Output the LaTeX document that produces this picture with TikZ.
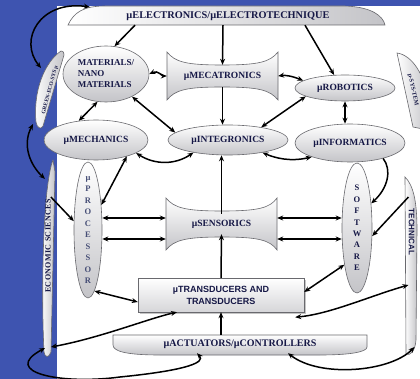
\documentclass[tikz,border=0pt]{standalone}
\usepackage{fontspec}
\setmainfont{Liberation Serif}
\setsansfont{Liberation Sans}
\usetikzlibrary{positioning, arrows.meta, shapes.geometric, shadows}
\definecolor{slideblue}{RGB}{62,84,176}
\definecolor{ink}{RGB}{22,24,70}
\definecolor{inkgray}{RGB}{70,78,118}
\definecolor{rim}{RGB}{105,105,110}
\definecolor{shade}{RGB}{196,196,200}
\tikzset{
  blob/.style={
    ellipse, draw=rim, line width=0.6pt,
    top color=white, bottom color=shade, text=ink,
    font=\bfseries\fontsize{9.5}{11}\selectfont, inner sep=0pt
  },
  plate/.style={draw=rim, line width=0.6pt, top color=white, bottom color=shade},
  tag/.style={text=ink, font=\bfseries\fontsize{9.5}{11}\selectfont, inner sep=0pt},
  arr/.style={-{Stealth[length=6pt,width=5pt]}, line width=1.5pt},
  arrs/.style={{Stealth[length=6pt,width=5pt]}-{Stealth[length=6pt,width=5pt]}, line width=1.5pt}
}

\begin{document}
\begin{tikzpicture}[x=1pt, y=-1pt]
  \useasboundingbox (0,0) rectangle (420,379);
  \clip (0,0) rectangle (420,379);
  % slide
  \fill[slideblue] (0,0) rectangle (420,379);
  \fill[white] (57,6) rectangle (420,379);

  % outlines that are not plain nodes
  \draw[plate, left color=white, right color=shade] (68,25) .. controls (74,12) and (84,6) .. (105,6) -- (345,6) .. controls (372,7) and (383,16) .. (385,25) -- cycle;
  \draw[plate] (167,52) .. controls (175,62) and (186,65) .. (222,65) .. controls (259,65) and (270,62) .. (278,52) -- (278,100) .. controls (270,90) and (259,87) .. (222,87) .. controls (186,87) and (175,90) .. (167,100) -- cycle;
  \draw[plate] (166,198) .. controls (174,208) and (186,211) .. (222,211) .. controls (258,211) and (270,208) .. (277,198) -- (277,250) .. controls (270,240) and (258,237) .. (222,237) .. controls (186,237) and (174,240) .. (166,250) -- cycle;
  \draw[plate] (113,335) -- (367,335) -- (367,347) .. controls (367,352) and (350,355) .. (320,355) -- (160,355) .. controls (125,355) and (113,351) .. (113,345) -- cycle;
  \draw[plate, left color=white, right color=shade] (53,160) .. controls (43,185) and (41,290) .. (44,352) .. controls (45,358) and (49,358) .. (51,352) -- (55,172) -- cycle;
  \draw[plate, left color=white, right color=shade] (405,177) .. controls (413,185) and (417,200) .. (417,230) -- (416,340) .. controls (415,352) and (410,356) .. (406,354) -- cycle;
  \draw[plate, left color=white, right color=shade] (61,51) .. controls (45,62) and (33,90) .. (36,122) .. controls (37,128) and (41,130) .. (43,126) -- (64,55) .. controls (64,52) and (62,50) .. (61,51) -- cycle;
  \draw[plate, left color=white, right color=shade] (397,53) .. controls (412,55) and (425,75) .. (428,100) -- (428,130) -- (413,127) -- cycle;

  % labels
  \node[tag, minimum width=300pt, minimum height=18pt, font=\bfseries\fontsize{10.3}{11}\selectfont] (elec) at (228,16) {µELECTRONICS/µELECTROTECHNIQUE};
  \node[blob, minimum width=86pt, minimum height=56pt, align=left, font=\bfseries\fontsize{9}{11}\selectfont] (mat) at (106,74) {MATERIALS/\\NANO\\MATERIALS};
  \node[tag, minimum width=111pt, minimum height=22pt] (meca) at (222.5,76) {µMECATRONICS};
  \node[blob, minimum width=100pt, minimum height=26pt] (rob) at (345,88) {µROBOTICS};
  \node[blob, minimum width=104pt, minimum height=40pt] (mech) at (96,140) {µMECHANICS};
  \node[blob, minimum width=120pt, minimum height=30pt] (integ) at (228,140) {µINTEGRONICS};
  \node[blob, minimum width=110pt, minimum height=38pt] (inf) at (350,143) {µINFORMATICS};
  \node[blob, minimum width=28pt, minimum height=136pt, inner sep=-10pt, align=center, text=inkgray, font=\bfseries\fontsize{8.5}{11.5}\selectfont] (proc) at (88,230) {µ\\P\\R\\O\\C\\E\\S\\S\\O\\R};
  \node[blob, minimum width=30pt, minimum height=130pt, align=center, font=\bfseries\fontsize{8.5}{11.4}\selectfont] (soft) at (357,228) {S\\O\\F\\T\\W\\A\\R\\E};
  \node[tag, minimum width=111pt, minimum height=20pt] (sens) at (221.5,224) {µSENSORICS};
  \node[draw=rim, top color=white, bottom color=shade!70, drop shadow={opacity=0.45, shadow xshift=2pt, shadow yshift=-2pt}, minimum width=166pt, minimum height=34pt, align=center, text=ink, font=\sffamily\bfseries\fontsize{9}{12}\selectfont] (trans) at (221,295) {µTRANSDUCERS AND\\TRANSDUCERS};
  \node[tag, minimum width=254pt, minimum height=18pt, font=\bfseries\fontsize{10}{11}\selectfont] (act) at (240,344) {µACTUATORS/µCONTROLLERS};
  \node[tag, font=\bfseries\fontsize{8}{9}\selectfont\addfontfeature{LetterSpace=5}] (econ) at (48,246) {\rotatebox{90}{ECONOMIC SCIENCES}};
  \node[tag, font=\sffamily\bfseries\fontsize{8}{9}\selectfont] (tech) at (411.5,232) {\rotatebox{-90}{TECHNICAL}};
  \node[tag, font=\bfseries\fontsize{5.5}{6}\selectfont] (green) at (50,90) {\rotatebox{75}{GREEN-ECO-SYS µ}};
  \node[tag, font=\bfseries\fontsize{6}{7}\selectfont] (sys) at (413,90) {\rotatebox{-78}{µ-SYS-TEM}};

  % links
  \draw[arr] ([xshift=-93pt]elec.south) -- (mat.73);
  \draw[arr] ([xshift=-5pt]elec.south) -- (meca.north);
  \draw[arr] ([xshift=77pt]elec.south) -- (rob.130);
  \draw[arr] (meca.south) -- (meca.south |- integ.north);
  \draw[arrs] (mat.east) .. controls (158,70) and (162,76) .. (meca.west);
  \draw[arrs] (meca.east) .. controls (285,75) and (292,76) .. (rob.170);
  \draw[arrs] (mat.253) -- (mech.132);
  \draw[arrs] (mat.319) -- (integ.172);
  \draw[arrs] (rob.192) -- (integ.21);
  \draw[arrs] (rob.south) -- (rob.south |- inf.north);
  \draw[arrs] (mech.-18) .. controls (155,165) and (175,165) .. (integ.200);
  \draw[arrs] (integ.-20) .. controls (275,158) and (290,162) .. (inf.200);
  \draw[arr] (inf.-25) .. controls (392,170) and (388,188) .. (soft.60);
  \draw[arrs] (mech.-28) -- (proc.62);
  \draw[arr] ([yshift=49pt]econ.east) -- (proc.148);
  \draw[arrs] ([yshift=6pt]sens.west) -- ([yshift=6pt]sens.west -| proc.east);
  \draw[arrs] ([yshift=-15pt]sens.west) -- ([yshift=-15pt]sens.west -| proc.east);
  \draw[arrs] ([yshift=6pt]sens.east) -- ([yshift=6pt]sens.east -| soft.west);
  \draw[arrs] ([yshift=-15pt]sens.east) -- ([yshift=-15pt]sens.east -| soft.west);
  \draw[arr] (sens.north) -- (sens.north |- integ.south);
  \draw[arr] (trans.north) -- (sens.south);
  \draw[arr] (trans.south |- act.north) -- (trans.south);
  \draw[arrs] (proc.-84) -- ([yshift=-7pt]trans.west);
  \draw[arrs] (soft.251) -- ([yshift=3pt]trans.east);
  \draw[arr] ([yshift=35pt]tech.west) -- (soft.-28);
  \draw[arrs] ([yshift=-53pt]tech.west) .. controls (370,296) and (330,314) .. ([xshift=-9pt,yshift=-5pt]trans.south east);
  \draw[arrs] ([yshift=-101pt]econ.east) .. controls (100,338) and (150,318) .. ([xshift=-44pt]trans.south);
  \draw[arrs] ([yshift=-102pt]econ.west) .. controls (0,372) and (60,385) .. (120,377) .. controls (190,370) and (205,362) .. ([xshift=-43pt]act.south);
  \draw[arrs] ([yshift=-115pt]tech.east) .. controls (390,372) and (320,378) .. ([xshift=48pt]act.south);
  \draw[arrs] ([shift={(12pt,9pt)}]elec.west) .. controls (40,0) and (18,40) .. ([yshift=22pt]green.west);
  \draw[arrs] ([shift={(-8pt,-34pt)}]green.west) .. controls (22,145) and (30,165) .. ([shift={(-3pt,20pt)}]econ.north);
\end{tikzpicture}
\end{document}
